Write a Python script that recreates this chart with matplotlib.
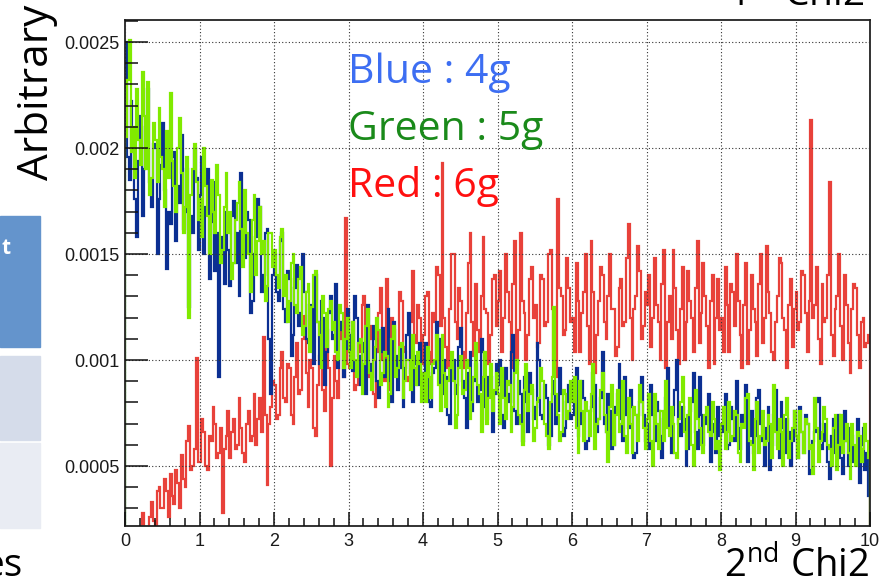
import numpy as np
import matplotlib
matplotlib.use("Agg")
import matplotlib.pyplot as plt
from matplotlib.ticker import MultipleLocator, FixedLocator, FixedFormatter

# histogram contents, 400 bins of 0.025 over 0..10, in units of 1e-5
# one row per unit of x
blue_4g = [
    [250, 196, 185, 222, 205, 176, 158, 194, 215, 168, 190, 210, 228, 184, 172, 202, 200, 150, 176, 192,
     212, 180, 143, 170, 164, 196, 198, 156, 182, 174, 206, 162, 170, 190, 125, 168, 160, 200, 186, 152],
    [178, 196, 150, 172, 190, 138, 165, 184, 142, 160, 92, 150, 158, 136, 170, 152, 135, 168, 175, 146,
     160, 130, 188, 156, 148, 170, 166, 122, 128, 150, 158, 176, 172, 132, 140, 160, 162, 110, 84, 140],
    [150, 132, 128, 156, 160, 124, 118, 142, 138, 102, 112, 134, 145, 116, 122, 150, 132, 110, 108, 126,
     126, 98, 140, 118, 98, 128, 120, 88, 104, 122, 130, 110, 112, 136, 96, 114, 118, 92, 105, 124],
    [112, 100, 95, 130, 120, 102, 88, 108, 104, 84, 126, 98, 92, 116, 110, 90, 82, 104, 115, 92,
     100, 124, 90, 80, 118, 102, 86, 96, 105, 78, 96, 112, 122, 94, 80, 102, 98, 88, 108, 94],
    [90, 108, 102, 80, 78, 94, 96, 118, 110, 88, 84, 100, 92, 74, 70, 96, 100, 84, 88, 106,
     115, 90, 82, 68, 94, 104, 76, 90, 98, 80, 86, 110, 104, 78, 72, 92, 92, 66, 84, 98],
    [88, 100, 74, 68, 96, 84, 80, 104, 112, 76, 70, 90, 84, 62, 92, 80, 66, 94, 86, 72,
     78, 108, 100, 74, 72, 88, 82, 60, 64, 84, 90, 70, 76, 96, 84, 64, 68, 80, 88, 72],
    [74, 86, 96, 64, 70, 90, 82, 58, 62, 76, 78, 94, 88, 66, 72, 82, 104, 70, 66, 84,
     76, 58, 60, 78, 84, 98, 72, 62, 92, 74, 68, 86, 78, 54, 56, 74, 80, 92, 74, 62],
    [70, 58, 88, 74, 62, 80, 76, 64, 54, 72, 82, 96, 68, 56, 74, 86, 100, 70, 64, 78,
     72, 50, 58, 76, 80, 94, 66, 58, 92, 74, 60, 70, 74, 84, 52, 66, 70, 56, 78, 64],
    [66, 76, 84, 58, 60, 78, 72, 62, 90, 68, 58, 74, 70, 88, 52, 64, 76, 56, 64, 82,
     86, 70, 62, 50, 68, 78, 48, 60, 74, 86, 60, 54, 80, 68, 56, 72, 66, 50, 62, 76],
    [64, 54, 78, 66, 56, 74, 70, 46, 48, 62, 66, 80, 82, 60, 58, 70, 62, 52, 44, 64,
     72, 56, 60, 74, 54, 46, 76, 62, 50, 68, 64, 52, 58, 72, 42, 60, 68, 48, 56, 36],
]
green_5g = [
    [205, 232, 251, 198, 210, 186, 228, 204, 192, 236, 215, 190, 231, 178, 186, 212, 204, 184, 219, 196,
     190, 172, 208, 186, 226, 194, 182, 170, 200, 214, 188, 160, 172, 196, 120, 178, 190, 202, 184, 166],
    [176, 158, 200, 182, 168, 150, 185, 170, 160, 192, 178, 146, 152, 172, 188, 160, 170, 138, 146, 166,
     174, 184, 162, 144, 180, 160, 150, 132, 166, 178, 140, 156, 172, 150, 156, 128, 135, 160, 160, 144],
    [152, 140, 134, 158, 162, 130, 140, 118, 128, 146, 150, 126, 122, 138, 144, 112, 116, 132, 136, 104,
     125, 140, 142, 118, 112, 96, 130, 122, 106, 124, 128, 114, 118, 104, 100, 126, 122, 96, 110, 120],
    [104, 96, 118, 100, 92, 108, 110, 84, 98, 116, 124, 94, 86, 100, 106, 120, 114, 88, 94, 104,
     102, 78, 84, 110, 116, 92, 96, 106, 108, 82, 90, 100, 100, 86, 112, 96, 88, 104, 98, 80],
    [94, 80, 106, 92, 82, 98, 100, 112, 88, 76, 112, 94, 78, 90, 96, 104, 90, 68, 74, 96,
     102, 84, 86, 100, 96, 72, 80, 92, 108, 88, 84, 66, 92, 104, 70, 82, 98, 76, 86, 94],
    [84, 70, 96, 82, 72, 90, 88, 66, 78, 94, 100, 74, 70, 60, 86, 98, 76, 84, 88, 62,
     68, 80, 82, 96, 90, 70, 64, 58, 80, 92, 125, 84, 74, 62, 66, 86, 84, 72, 76, 90],
    [80, 92, 68, 56, 90, 76, 62, 80, 76, 64, 84, 98, 58, 70, 72, 86, 94, 74, 66, 52,
     78, 88, 60, 74, 86, 66, 70, 90, 64, 56, 82, 70, 56, 78, 74, 62, 88, 80, 68, 58],
    [72, 84, 62, 50, 84, 70, 58, 76, 76, 62, 90, 68, 64, 78, 70, 56, 54, 72, 80, 92,
     66, 58, 74, 82, 60, 50, 86, 72, 68, 60, 56, 74, 78, 66, 64, 80, 72, 58, 62, 48],
    [70, 78, 58, 66, 80, 62, 64, 76, 74, 56, 52, 70, 68, 82, 84, 62, 60, 48, 72, 80,
     56, 64, 76, 60, 62, 74, 70, 54, 88, 66, 58, 72, 66, 50, 74, 82, 54, 62, 68, 76],
    [64, 54, 76, 66, 56, 72, 70, 58, 60, 46, 82, 68, 52, 62, 66, 78, 72, 60, 58, 50,
     68, 74, 48, 60, 74, 56, 62, 70, 56, 44, 70, 60, 50, 66, 64, 52, 58, 70, 62, 54],
]
red_6g = [
    [2, 6, 4, 8, 6, 12, 10, 16, 14, 28, 12, 20, 18, 26, 33, 24, 22, 38, 40, 30,
     30, 44, 38, 26, 46, 36, 32, 48, 42, 30, 55, 44, 40, 62, 69, 48, 50, 58, 101, 52],
    [52, 72, 66, 50, 48, 64, 62, 78, 70, 54, 56, 68, 28, 58, 64, 76, 54, 66, 72, 58,
     60, 82, 68, 56, 52, 70, 76, 62, 64, 84, 60, 72, 82, 66, 111, 74, 41, 70, 78, 90],
    [88, 72, 74, 96, 104, 82, 80, 98, 96, 74, 70, 92, 108, 84, 86, 110, 121, 94, 78, 100,
     96, 68, 64, 88, 102, 112, 86, 76, 114, 96, 50, 82, 102, 90, 82, 118, 110, 92, 167, 98],
    [96, 112, 118, 86, 88, 108, 104, 126, 130, 98, 92, 116, 110, 84, 78, 104, 122, 134, 100, 90,
     138, 110, 86, 120, 114, 100, 96, 132, 128, 106, 104, 92, 90, 118, 142, 112, 108, 126, 120, 98],
    [112, 130, 132, 104, 98, 122, 118, 144, 140, 116, 193, 120, 106, 96, 124, 150, 150, 118, 110, 134,
     128, 104, 96, 122, 146, 160, 118, 102, 136, 114, 104, 130, 158, 124, 122, 98, 112, 138, 140, 116],
    [128, 142, 104, 120, 150, 132, 118, 96, 136, 156, 98, 114, 160, 128, 122, 100, 112, 138, 144, 120,
     126, 106, 108, 140, 138, 116, 118, 150, 152, 124, 100, 92, 176, 134, 130, 112, 114, 148, 134, 118],
    [120, 104, 146, 128, 104, 122, 132, 150, 116, 98, 156, 132, 94, 112, 128, 144, 140, 118, 110, 130,
     150, 124, 124, 102, 106, 134, 138, 116, 118, 148, 164, 120, 100, 124, 130, 154, 142, 110, 116, 132],
    [126, 140, 106, 120, 148, 126, 118, 100, 136, 152, 96, 118, 130, 110, 152, 134, 114, 98, 124, 144,
     100, 118, 142, 128, 120, 104, 134, 156, 108, 122, 146, 130, 116, 96, 128, 140, 98, 120, 138, 114],
    [120, 104, 144, 126, 104, 136, 132, 116, 150, 128, 112, 96, 126, 146, 98, 114, 140, 124, 118, 102,
     136, 150, 108, 120, 154, 132, 122, 104, 100, 118, 130, 148, 146, 120, 114, 96, 126, 138, 106, 124],
    [132, 114, 118, 142, 140, 122, 104, 128, 213, 120, 126, 144, 110, 98, 136, 118, 120, 140, 184, 112,
     102, 124, 130, 150, 116, 100, 140, 126, 108, 94, 124, 136, 134, 112, 96, 118, 120, 106, 108, 112],
]
x_range = (0, 10)
y_range = (0.000217, 0.002604)
y_ticks = [0.0005, 0.001, 0.0015, 0.002, 0.0025]
y_labels = ["0.0005", "0.001", "0.0015", "0.002", "0.0025"]
legend_text = ["Blue : 4g", "Green : 5g", "Red : 6g"]

scale = 1e-5
for name, rows in [("blue", blue_4g), ("green", green_5g), ("red", red_6g)]:
    for i, r in enumerate(rows):
        assert len(r) == 40, (name, i, len(r))

W, H = 894, 582
fig = plt.figure(figsize=(W / 100, H / 100), dpi=100)
ax = fig.add_axes([125 / W, 1 - 526 / H, 745 / W, 506 / H])

lw = 1.6
for rows, col in [(red_6g, "#e8413a"), (blue_4g, "#0b2f92"), (green_5g, "#80ea00")]:
    vals = np.concatenate(rows) * scale
    edges = np.linspace(x_range[0], x_range[1], len(vals) + 1)
    ax.stairs(vals, edges, color=col, lw=lw)

ax.set_xlim(*x_range)
ax.set_ylim(*y_range)

ax.xaxis.set_major_locator(MultipleLocator(1))
ax.xaxis.set_minor_locator(MultipleLocator(0.2))
ax.yaxis.set_major_locator(FixedLocator(y_ticks))
ax.yaxis.set_major_formatter(FixedFormatter(y_labels))
ax.yaxis.set_minor_locator(MultipleLocator(0.0001))
ax.tick_params(axis="both", which="both", direction="in", color="#111111", width=1.1)
ax.tick_params(axis="x", which="major", length=10, pad=5)
ax.tick_params(axis="x", which="minor", length=5.5)
ax.tick_params(axis="y", which="major", length=16.5, pad=4)
ax.tick_params(axis="y", which="minor", length=9.5)
for lab in ax.get_xticklabels() + ax.get_yticklabels():
    lab.set_fontfamily("Liberation Sans")
    lab.set_fontsize(13)
    lab.set_color("#1a1a1a")
ax.grid(True, which="major", color="#333333", lw=0.8, linestyle=(0, (1, 2)))
ax.set_axisbelow(False)
for s in ax.spines.values():
    s.set_linewidth(1.3)
    s.set_color("#222222")

# legend-like texts
leg_colors = ["#3d6ef2", "#1a8a1a", "#ff1010"]
for i, (t, c) in enumerate(zip(legend_text, leg_colors)):
    ax.text(348 / W, 1 - (83 + 57 * i) / H, t, transform=fig.transFigure,
            color=c, fontsize=29.5, family="Open Sans", va="baseline")

# pieces of the surrounding slide
fig.text(37 / W, 1 - 92 / H, "Arbitrary", rotation=90, fontsize=30.5,
         family="Open Sans", ha="center", va="center")
fig.text(724 / W, 1 - 577 / H, r"2$^{\mathregular{nd}}$ Chi2", fontsize=27.5,
         family="Open Sans", ha="left", va="baseline")
fig.text(728 / W, 1 - 6 / H, r"1$^{\mathregular{st}}$ Chi2", fontsize=28,
         family="Open Sans", ha="left", va="baseline")
fig.patches.append(plt.Rectangle((0, 1 - 347 / H), 40 / W, 131 / H,
                                 transform=fig.transFigure, color="#6494cc"))
fig.patches.append(plt.Rectangle((0, 1 - 440 / H), 40 / W, 84 / H,
                                 transform=fig.transFigure, color="#d5dcea"))
fig.patches.append(plt.Rectangle((0, 1 - 528 / H), 40 / W, 85 / H,
                                 transform=fig.transFigure, color="#e9ecf3"))
fig.text(1 / W, 1 - 249 / H, "t", color="white", fontsize=15,
         fontweight="bold", family="Open Sans", ha="left", va="center")
fig.text(23 / W, 1 - 576 / H, "es", fontsize=28, family="Open Sans",
         ha="right", va="baseline")

fig.savefig("out.png", dpi=100)
